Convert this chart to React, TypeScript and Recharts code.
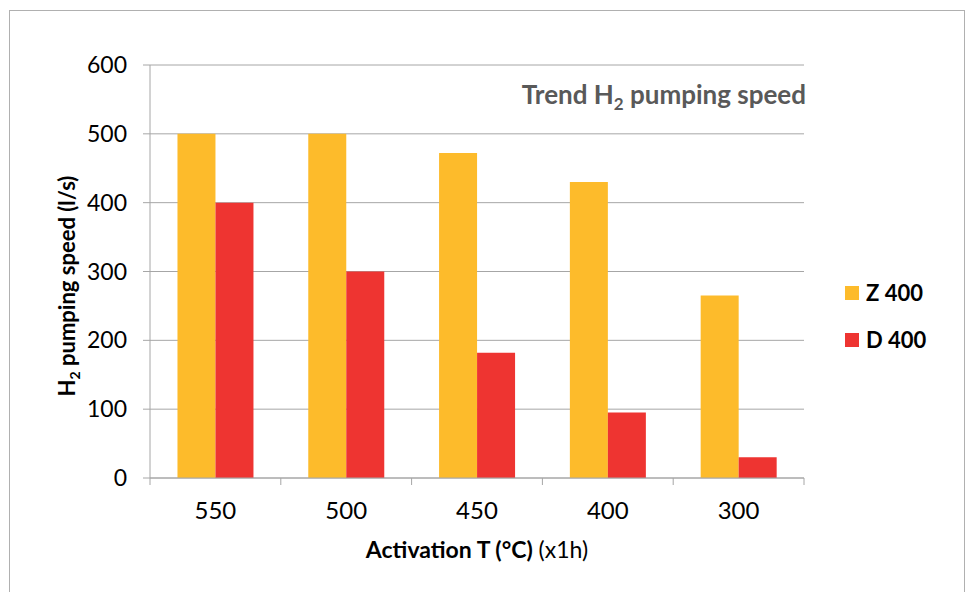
import React from "react";
import {
  BarChart,
  Bar,
  XAxis,
  YAxis,
  CartesianGrid,
} from "recharts";

const categories = ["550", "500", "450", "400", "300"];
const z400 = [500, 500, 472, 430, 265];
const d400 = [400, 300, 182, 95, 30];
const yTicks = [0, 100, 200, 300, 400, 500, 600];
const series = [
  { key: "Z 400", color: "#FDBB2B" },
  { key: "D 400", color: "#EE3431" },
];

const data = categories.map((name, i) => ({
  name,
  "Z 400": z400[i],
  "D 400": d400[i],
}));

const FONT = "Lato, 'Open Sans', sans-serif";
const AXIS = "#a6a6a6";
const W = 969;
const H = 592;
const M = { top: 65, right: 165, left: 90, bottom: 64 };
const band = (W - M.left - 60 - M.right) / categories.length;

const XTick = (props: any) => {
  const { x, y, payload, index } = props;
  const left = x - band / 2;
  return (
    <g>
      <line x1={left} x2={left} y1={y - 8} y2={y - 1} stroke={AXIS} />
      {index === categories.length - 1 && (
        <line x1={left + band} x2={left + band} y1={y - 8} y2={y - 1} stroke={AXIS} />
      )}
      <text x={x} y={y + 33} textAnchor="middle" fontSize={24} fill="#000" fontFamily={FONT}>
        {payload.value}
      </text>
    </g>
  );
};

const XTitle = (props: any) => {
  const { viewBox } = props;
  const cx = viewBox.x + viewBox.width / 2;
  return (
    <text x={cx} y={558} textAnchor="middle" fontSize={23} fontFamily={FONT} fill="#000">
      <tspan fontWeight="bold">Activation T (°C)</tspan>
      <tspan> (x1h)</tspan>
    </text>
  );
};

const YTitle = () => (
  <text
    x={0}
    y={0}
    transform="translate(75, 286) rotate(-90)"
    textAnchor="middle"
    fontSize={22}
    fontWeight="bold"
    fontFamily={FONT}
    fill="#000"
  >
    H<tspan fontSize={14} dy={5}>2</tspan>
    <tspan dy={-5}> pumping speed  (l/s)</tspan>
  </text>
);

export default function App() {
  return (
    <div style={{ position: "absolute", left: 0, top: 0, width: W, height: H }}>
      <div
        style={{
          position: "absolute",
          left: 9,
          top: 10,
          width: 956,
          height: 590,
          border: "1px solid #b0b0b0",
          boxSizing: "border-box",
        }}
      />
      <div
        style={{
          position: "absolute",
          right: W - 806,
          top: 78,
          fontFamily: FONT,
          fontWeight: "bold",
          fontSize: 26,
          color: "#595959",
          whiteSpace: "nowrap",
        }}
      >
        Trend H<sub style={{ fontSize: 17 }}>2</sub> pumping speed
      </div>
      <div
        style={{
          position: "absolute",
          left: 845,
          top: 269,
          fontFamily: FONT,
          fontWeight: "bold",
          fontSize: 22,
          color: "#000",
        }}
      >
        {series.map((s) => (
          <div key={s.key} style={{ display: "flex", alignItems: "center", height: 47 }}>
            <span style={{ width: 14, height: 14, background: s.color, marginRight: 7 }} />
            {s.key}
          </div>
        ))}
      </div>
      <BarChart
        width={W}
        height={H}
        data={data}
        margin={M}
        barCategoryGap="21%"
        barGap={0}
      >
        <CartesianGrid vertical={false} stroke={AXIS} />
        <XAxis
          dataKey="name"
          height={50}
          stroke={AXIS}
          tickLine={false}
          tick={<XTick />}
          label={<XTitle />}
        />
        <YAxis
          width={60}
          domain={[0, 600]}
          ticks={yTicks}
          stroke={AXIS}
          tickSize={7}
          tickMargin={16}
          tick={{ fill: "#000", fontSize: 23, fontFamily: FONT }}
          label={<YTitle />}
        />
        {series.map((s) => (
          <Bar key={s.key} dataKey={s.key} fill={s.color} isAnimationActive={false} />
        ))}
      </BarChart>
    </div>
  );
}
